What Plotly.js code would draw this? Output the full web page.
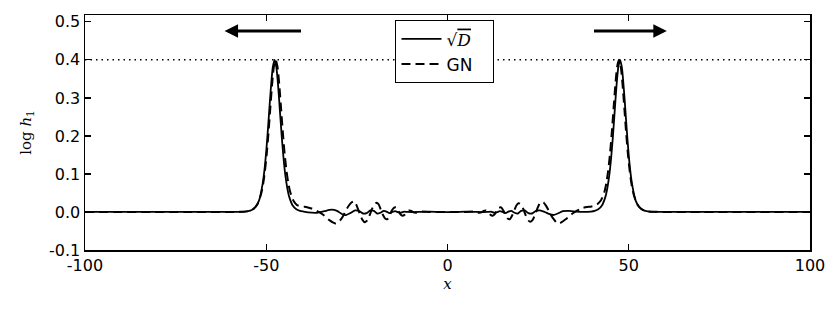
<!DOCTYPE html>
<html>
<head>
<meta charset="utf-8">
<script src="https://cdn.plot.ly/plotly-3.0.1.min.js"></script>
<style>html,body{margin:0;padding:0;background:#fff;}#chart{width:830px;height:315px;}</style>
</head>
<body>
<div id="chart"></div>
<script>
// ---- data ----
var sqrtD_x = [-100,-80,-65,-58,-56,-55,-54,-53,-52,-51,-50.5,-50,-49.5,-49,-48.5,-48.2,-47.7,-47.2,-46.7,-46.2,-45.7,-45.2,-44.7,-44.2,-43.7,-42.7,-41.7,-40.7,-39.7,-38.5,-36,-34,-32,-30.5,-29,-28,-26.8,-25.5,-24.3,-23.3,-22.3,-21.3,-20.3,-19.4,-18.5,-17.6,-16.8,-16,-15.2,-14.4,-13.6,-12.8,-12,-11,-8,-5,-2,2,5,8,11,12,12.8,13.6,14.4,15.2,16,16.8,17.6,18.5,19.4,20.3,21.3,22.3,23.3,24.3,25.5,26.8,28,29.2,30.4,31.8,33.5,35.5,37.5,39.6,40.6,41.6,42.6,43.6,44.1,44.6,45.1,45.6,46.1,46.6,47.1,47.6,48.1,48.4,48.9,49.4,49.9,50.4,50.9,51.9,52.9,53.9,54.9,55.9,58,65,80,100];
var sqrtD_y = [0,0,0,0.0002,0.001,0.002,0.005,0.013,0.030,0.074,0.110,0.160,0.222,0.291,0.352,0.380,0.400,0.380,0.329,0.262,0.195,0.138,0.094,0.063,0.041,0.017,0.007,0.003,0.001,-0.001,-0.002,0.002,0.006,0.003,-0.006,-0.008,-0.003,0.004,0.002,-0.004,-0.003,0.004,0.003,-0.004,-0.002,0.003,0.001,-0.003,0.000,0.002,-0.001,-0.002,0.001,0.000,0.000,0.001,0.000,0.000,0.001,0.000,0.000,0.001,-0.002,-0.001,0.002,0.000,-0.003,0.001,0.003,-0.002,-0.004,0.003,0.004,-0.003,-0.004,0.002,0.004,0.000,-0.005,-0.008,-0.004,0.002,0.003,0.001,0.000,0.0012,0.003,0.007,0.017,0.041,0.063,0.094,0.138,0.195,0.262,0.329,0.380,0.400,0.380,0.352,0.291,0.222,0.160,0.110,0.074,0.030,0.013,0.005,0.002,0.001,0.0002,0,0,0];

var gn_x = [-100,-70,-58,-56.4,-55.4,-54.4,-53.4,-52.4,-51.4,-50.9,-50.4,-49.9,-49.4,-48.9,-48.4,-47.9,-47.4,-46.9,-46.4,-45.9,-45.4,-44.9,-44.4,-43.9,-43.4,-42.4,-41.5,-40.5,-39.5,-38.5,-37.5,-36.5,-35.5,-34.5,-33.5,-32.5,-31.5,-30.8,-30,-29.3,-28.6,-27.9,-27.2,-26.5,-25.9,-25.3,-24.7,-24.1,-23.5,-22.8,-22.1,-21.5,-20.9,-20.3,-19.6,-19.0,-18.4,-17.8,-17.2,-16.6,-16.0,-15.4,-14.8,-14.2,-13.6,-13.0,-12.4,-11.8,-11.2,-10.6,-10.0,-9.4,-8.6,-7.8,-7,-5,-2,2,5,7,7.8,8.6,9.4,10.0,10.6,11.2,11.8,12.4,13.0,13.6,14.2,14.8,15.4,16.0,16.6,17.2,17.8,18.4,19.0,19.6,20.3,20.9,21.5,22.1,22.8,23.5,24.1,24.7,25.3,25.9,26.5,27.2,27.9,28.6,29.3,30.0,30.8,31.5,32.5,33.5,34.5,35.5,36.5,37.5,38.5,39.5,40.5,41.4,42.3,43.3,43.8,44.3,44.8,45.3,45.8,46.3,46.8,47.3,47.8,48.3,48.8,49.3,49.8,50.3,50.8,51.3,52.3,53.3,54.3,55.3,56.3,58,70,100];
var gn_y = [0,0,0.0003,0.0007,0.0016,0.004,0.009,0.021,0.048,0.071,0.105,0.149,0.206,0.271,0.334,0.382,0.400,0.382,0.334,0.271,0.206,0.150,0.107,0.075,0.053,0.028,0.018,0.015,0.014,0.012,0.009,0.005,0.000,-0.006,-0.014,-0.022,-0.028,-0.030,-0.026,-0.018,-0.007,0.006,0.017,0.025,0.028,0.022,0.008,-0.007,-0.020,-0.027,-0.022,-0.009,0.006,0.018,0.024,0.020,0.006,-0.008,-0.017,-0.019,-0.010,0.003,0.011,0.012,0.004,-0.006,-0.010,-0.007,0.000,0.004,0.003,-0.001,-0.002,0.000,0.001,0,0,0,0,0.001,0.000,-0.002,-0.001,0.003,0.004,0.000,-0.007,-0.010,-0.006,0.004,0.011,0.012,0.004,-0.008,-0.017,-0.019,-0.010,0.004,0.017,0.023,0.020,0.008,-0.007,-0.020,-0.026,-0.021,-0.008,0.007,0.020,0.027,0.025,0.016,0.004,-0.009,-0.019,-0.027,-0.030,-0.027,-0.020,-0.012,-0.004,0.002,0.007,0.011,0.013,0.014,0.016,0.021,0.030,0.053,0.075,0.107,0.150,0.206,0.271,0.334,0.382,0.400,0.382,0.334,0.271,0.206,0.149,0.105,0.071,0.048,0.021,0.009,0.004,0.0016,0.0007,0.0003,0,0];

var seriesNames = ['√<span style="font-family:DejaVu Serif;font-style:italic;text-decoration:overline">D</span>&nbsp;&nbsp;&nbsp;', 'GN'];
var xTickVals = [-100,-50,0,50,100];
var xTickText = ['-100','-50','0','50','100'];
var yTickVals = [-0.1,0,0.1,0.2,0.3,0.4,0.5];
var yTickText = ['-0.1','0.0','0.1','0.2','0.3','0.4','0.5'];
var peakLevel = 0.4;
var arrowTailX = [-40, 40];
var arrowHeadX = [-61.5, 60.5];
var arrowY = 0.476;

// ---- chart ----
var traces = [
  {x: sqrtD_x, y: sqrtD_y, name: seriesNames[0], mode: 'lines',
   line: {color: '#000', width: 1.8, shape: 'spline', smoothing: 0.6}},
  {x: gn_x, y: gn_y, name: seriesNames[1], mode: 'lines',
   line: {color: '#000', width: 2, dash: '9px,5px', shape: 'spline', smoothing: 0.6}}
];

var annotations = arrowTailX.map(function(t, i){
  return {x: arrowHeadX[i], y: arrowY, ax: t, ay: arrowY, xref: 'x', yref: 'y', axref: 'x', ayref: 'y',
          text: '', showarrow: true, arrowhead: 2, arrowsize: 0.9, arrowwidth: 3, arrowcolor: '#000'};
});

var layout = {
  width: 830, height: 315,
  margin: {l: 85, r: 20, t: 15, b: 65},
  paper_bgcolor: '#fff', plot_bgcolor: '#fff',
  font: {family: 'DejaVu Sans', size: 16, color: '#000'},
  showlegend: true,
  legend: {x: 0.428, xanchor: 'left', y: 0.978, yanchor: 'top',
           bgcolor: '#fff', bordercolor: '#000', borderwidth: 1.2,
           font: {family: 'DejaVu Sans', size: 17, color: '#000'},
           itemwidth: 40, tracegroupgap: 0},
  xaxis: {range: [-100, 100], showline: true, mirror: 'ticks', linecolor: '#000', linewidth: 1.5,
          ticks: 'inside', ticklen: 6, tickwidth: 1.2, tickcolor: '#000',
          tickvals: xTickVals, ticktext: xTickText, showgrid: false, zeroline: false,
          tickfont: {family: 'DejaVu Sans', size: 16},
          title: {text: '<i>x</i>', font: {family: 'DejaVu Serif', size: 15}, standoff: 0}},
  yaxis: {range: [-0.1, 0.518], showline: true, mirror: 'ticks', linecolor: '#000', linewidth: 1.5,
          ticks: 'inside', ticklen: 6, tickwidth: 1.2, tickcolor: '#000',
          tickvals: yTickVals, ticktext: yTickText, showgrid: false, zeroline: false,
          tickfont: {family: 'DejaVu Sans', size: 16},
          title: {text: 'log <i>h</i><sub>1</sub>', font: {family: 'DejaVu Serif', size: 15}, standoff: 14}},
  shapes: [{type: 'line', xref: 'paper', x0: 0, x1: 1, yref: 'y', y0: peakLevel, y1: peakLevel,
            line: {color: '#000', width: 1.5, dash: '1.5px,4px'}, layer: 'below'}],
  annotations: annotations
};

Plotly.newPlot('chart', traces, layout, {displayModeBar: false, staticPlot: true});
</script>
</body>
</html>
